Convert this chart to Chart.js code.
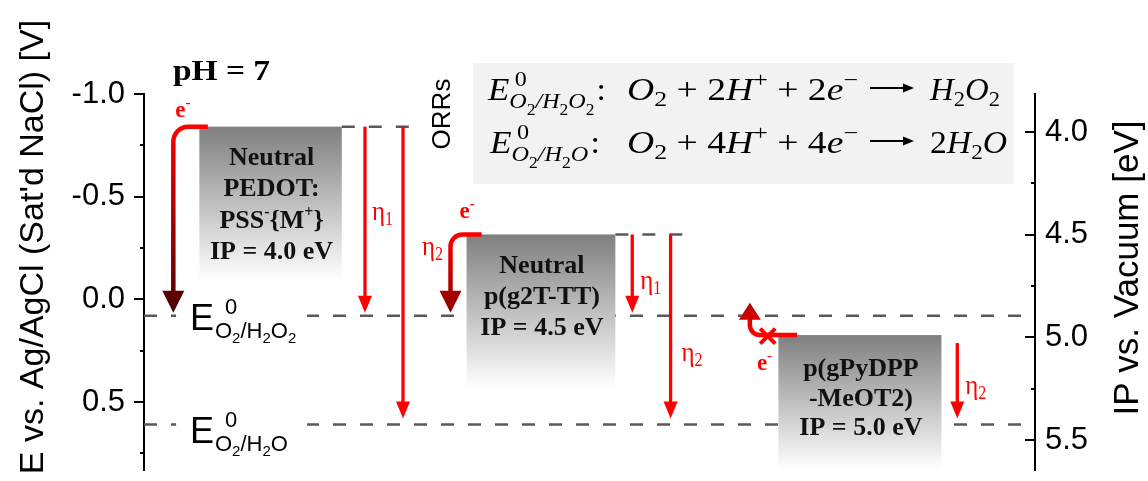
<!DOCTYPE html>
<html>
<head>
<meta charset="utf-8">
<title>Energy level diagram</title>
<script src="https://cdn.jsdelivr.net/npm/chart.js@4.4.1/dist/chart.umd.min.js"></script>
<style>
html,body{margin:0;padding:0;background:#ffffff;overflow:hidden;}
#c{display:block;}
</style>
</head>
<body>
<canvas id="c" width="1148" height="481"></canvas>
<script>
// ===== data =====
const polymerNames = ['PEDOT:PSS', 'p(g2T-TT)', 'p(gPyDPP-MeOT2)'];
const polymerIP_eV = [4.0, 4.5, 5.0];
const polymerLevel_V = [-0.841, -0.316, 0.174];
const orrCouples = ['O2/H2O2', 'O2/H2O'];
const orrElectrons = [2, 4];
const orrProducts = ['H2O2', '2H2O'];
const orrPotential_V = [0.080, 0.609];
const leftTicks_V = [-1.0, -0.75, -0.5, -0.25, 0.0, 0.25, 0.5, 0.75];
const rightTicks_eV = [4.0, 4.25, 4.5, 4.75, 5.0, 5.25, 5.5];
const axisRange_V = [-1.0, 0.831];
const vacuumOffset_eV = 4.815;
const pHValue = 7;
const leftTitle = "E vs. Ag/AgCl (Sat'd NaCl) [V]";
const rightTitle = 'IP vs. Vacuum [eV]';

// ===== layout / style (x in 0..100 layout units of the hidden x scale) =====
const RED = '#ff0000';
const GRAY_DASH = '#595959';
const SANS = 'Liberation Sans';
const SERIF = 'Liberation Serif';
const rectDepth_V = 0.75;
const tipGapPx = [3, 6];
const orrLabelX = 5.16;
const orrLabelDy = [14.5, 19];
const orrGap = [3.6, 18.3];
const layout = [
  { rect: [6.21, 22.2], dashEnd: 30.2,
    curve: { x: 3.29, from: 7.17, r: 15, end: '#4a0000', eDx: 2, eDy: -10 },
    etas: [ { x: 24.8, to: 0, t: 0.5, lx: 7 }, { x: 29.07, to: 1, t: 0.44, lx: 19 } ],
    text: { first: 38.5, step: 31.2, lines: [
      [{ t: 'Neutral' }], [{ t: 'PEDOT:' }],
      [{ t: 'PSS' }, { t: '-', sup: true }, { t: '{M' }, { t: '+', sup: true }, { t: '}' }] ] } },
  { rect: [36.2, 52.9], dashEnd: 60.5,
    curve: { x: 34.4, from: 37.9, r: 12, end: '#8b0000', eDx: 9, eDy: -16 },
    etas: [ { x: 54.8, to: 0, t: 0.7, lx: 8 }, { x: 59.1, to: 1, t: 0.69, lx: 11 } ],
    text: { first: 38.5, step: 31, lines: [ [{ t: 'Neutral' }], [{ t: 'p(g2T-TT)' }] ] } },
  { rect: [71.2, 89.5], dashEnd: null,
    blocked: { x: 68.0, from: 73.3, xMark: 70.0, r: 10, eDx: 7, eDy: 35 },
    etas: [ { x: 91.28, to: 1, t: 0.67, lx: 8, start: 8 } ],
    text: { first: 41, step: 29.7, lines: [ [{ t: 'p(gPyDPP' }], [{ t: '-MeOT2)' }] ] } }
];

// ===== helpers =====
function rich(ctx, segs, x, y, opt) {
  opt = opt || {};
  let cx = 0, ps = 0, maxX = 0; const items = [];
  for (const s of segs) {
    ctx.font = s.f;
    const w = ctx.measureText(s.t).width;
    const st = (s.back ? ps : cx) + (s.dx || 0);
    items.push([s, st]);
    cx = st + w; ps = st; maxX = Math.max(maxX, cx);
  }
  const sc = opt.fit ? opt.fit / maxX : 1;
  let x0 = x;
  if (opt.align === 'center') x0 = x - maxX * sc / 2;
  ctx.save();
  ctx.translate(x0, y); ctx.scale(sc, 1);
  ctx.textAlign = 'left'; ctx.textBaseline = 'alphabetic';
  for (const [s, st] of items) {
    ctx.font = s.f; ctx.fillStyle = s.c || opt.color || '#000';
    ctx.fillText(s.t, st, s.dy || 0);
  }
  ctx.restore();
  return maxX * sc;
}
function subSegs(str, fMain, fSmall, dyMain, dySmall) {
  const out = []; let buf = '';
  const flush = () => { if (buf) { out.push({ t: buf, f: fMain, dy: dyMain }); buf = ''; } };
  for (const ch of str) {
    if (/\d/.test(ch)) { flush(); out.push({ t: ch, f: fSmall, dy: dySmall }); } else buf += ch;
  }
  flush();
  return out;
}
function formulaSegs(str, fMain, fMainUp, fSmall, dySmall) {
  const out = []; let buf = ''; let lead = true;
  const flush = () => { if (buf) { out.push({ t: buf, f: fMain }); buf = ''; } };
  for (const ch of str) {
    if (/\d/.test(ch)) {
      flush();
      if (lead) out.push({ t: ch, f: fMainUp });
      else out.push({ t: ch, f: fSmall, dy: dySmall });
    } else { buf += ch; lead = false; }
  }
  flush();
  return out;
}
function head(ctx, x, tipY, w, h, dir) {
  ctx.beginPath();
  ctx.moveTo(x, tipY);
  ctx.lineTo(x - w / 2, tipY - dir * h);
  ctx.lineTo(x + w / 2, tipY - dir * h);
  ctx.closePath();
  ctx.fill();
}
const isMajor = v => Math.abs(v * 2 - Math.round(v * 2)) < 1e-9;

// ===== plugin drawing the diagram marks =====
const diagram = {
  id: 'diagram',
  afterDatasetsDraw(chart) {
    const { ctx, chartArea: ca, scales: { x, y } } = chart;
    const X = v => x.getPixelForValue(v), Y = v => y.getPixelForValue(v);
    ctx.save();
    // gaps in ORR lines behind labels
    orrPotential_V.forEach((v, i) => {
      ctx.fillStyle = '#ffffff';
      ctx.fillRect(X(orrGap[0]), Y(v) - 4, X(orrGap[1]) - X(orrGap[0]), 8);
    });
    // polymer boxes
    polymerLevel_V.forEach((lv, i) => {
      const L = layout[i];
      const top = Y(lv), bot = Math.min(Y(lv + rectDepth_V), ca.bottom);
      const g = ctx.createLinearGradient(0, top, 0, bot);
      g.addColorStop(0, '#7f7f7f'); g.addColorStop(1, '#ffffff');
      ctx.fillStyle = g;
      ctx.fillRect(X(L.rect[0]), top, X(L.rect[1]) - X(L.rect[0]), bot - top);
      // text
      const cx = (X(L.rect[0]) + X(L.rect[1])) / 2 + 1;
      const lines = L.text.lines.concat([[{ t: 'IP = ' + polymerIP_eV[i].toFixed(1) + ' eV' }]]);
      lines.forEach((ln, k) => {
        const segs = ln.map(s => s.sup ? { t: s.t, f: 'bold 16px ' + SERIF, dy: -11 } : { t: s.t, f: 'bold 26px ' + SERIF });
        rich(ctx, segs, cx, top + L.text.first + k * L.text.step, { align: 'center', color: '#111' });
      });
    });
    // eta arrows
    polymerLevel_V.forEach((lv, i) => {
      const L = layout[i];
      L.etas.forEach(e => {
        const x0 = X(e.x), y0 = Y(lv) + (e.start || 0);
        const tip = Y(orrPotential_V[e.to]) - tipGapPx[e.to];
        ctx.strokeStyle = RED; ctx.fillStyle = RED; ctx.lineWidth = 3.3;
        ctx.beginPath(); ctx.moveTo(x0, y0); ctx.lineTo(x0, tip - 14); ctx.stroke();
        head(ctx, x0, tip, 14, 17, 1);
        rich(ctx, [{ t: 'η', f: '28px ' + SERIF }, { t: String(e.to + 1), f: '18px ' + SERIF, dy: 5 }],
          x0 + e.lx, y0 + e.t * (tip - y0), { color: RED, fit: 21 });
      });
    });
    // curved electron-transfer arrows
    polymerLevel_V.forEach((lv, i) => {
      const L = layout[i];
      const ly = Y(lv);
      if (L.curve) {
        const c = L.curve, cx = X(c.x), sx = X(c.from);
        const tip = Y(orrPotential_V[0]) - tipGapPx[0];
        const g = ctx.createLinearGradient(0, ly, 0, tip);
        g.addColorStop(0, RED); g.addColorStop(1, c.end);
        ctx.strokeStyle = g; ctx.fillStyle = g; ctx.lineWidth = 4.5; ctx.lineCap = 'butt';
        ctx.beginPath(); ctx.moveTo(sx, ly); ctx.lineTo(cx + c.r, ly);
        ctx.arcTo(cx, ly, cx, ly + c.r, c.r); ctx.lineTo(cx, tip - 20); ctx.stroke();
        head(ctx, cx, tip, 22, 22, 1);
        rich(ctx, [{ t: 'e', f: 'bold 23px ' + SERIF }, { t: '-', f: 'bold 15px ' + SERIF, dy: -10 }],
          cx + c.eDx, ly + c.eDy, { color: RED });
      }
      if (L.blocked) {
        const b = L.blocked, ax = X(b.x), ex = X(b.from);
        const tip = Y(orrPotential_V[0]) - 13;
        const g = ctx.createLinearGradient(0, ly, 0, tip);
        g.addColorStop(0, RED); g.addColorStop(1, '#b00000');
        ctx.strokeStyle = g; ctx.fillStyle = g; ctx.lineWidth = 4.5;
        ctx.beginPath(); ctx.moveTo(ex, ly); ctx.lineTo(ax + b.r, ly);
        ctx.arcTo(ax, ly, ax, ly - b.r, b.r); ctx.lineTo(ax, tip + 16); ctx.stroke();
        head(ctx, ax, tip, 22, 17, -1);
        const mx = X(b.xMark), my = ly + 1, s = 7.5;
        ctx.strokeStyle = RED; ctx.lineWidth = 4;
        ctx.beginPath(); ctx.moveTo(mx - s, my - s); ctx.lineTo(mx + s, my + s);
        ctx.moveTo(mx + s, my - s); ctx.lineTo(mx - s, my + s); ctx.stroke();
        rich(ctx, [{ t: 'e', f: 'bold 23px ' + SERIF }, { t: '-', f: 'bold 15px ' + SERIF, dy: -10 }],
          ax + b.eDx, ly + b.eDy, { color: RED });
      }
    });
    // ORR level labels E0
    orrPotential_V.forEach((v, i) => {
      const segs = [{ t: 'E', f: '36px ' + SANS }, { t: '0', f: '22px ' + SANS, dx: 11, dy: -16 }];
      const sub = subSegs(orrCouples[i], '22px ' + SANS, '15px ' + SANS, 8, 13);
      sub[0].back = true; sub[0].dx = -10;
      rich(ctx, segs.concat(sub), X(orrLabelX), Y(v) + orrLabelDy[i], { color: '#000' });
    });
    ctx.restore();
  },
  afterDraw(chart) {
    const { ctx, scales: { y, y2 } } = chart;
    ctx.save();
    // tick marks (left outward, right inward)
    ctx.strokeStyle = '#000'; ctx.lineWidth = 2;
    leftTicks_V.forEach(v => {
      const yy = Math.round(y.getPixelForValue(v)); const len = isMajor(v) ? 10 : 4;
      ctx.beginPath(); ctx.moveTo(y.right - len, yy); ctx.lineTo(y.right, yy); ctx.stroke();
    });
    rightTicks_eV.forEach(v => {
      const yy = Math.round(y2.getPixelForValue(v)); const len = isMajor(v) ? 10 : 4;
      ctx.beginPath(); ctx.moveTo(y2.left - len, yy); ctx.lineTo(y2.left, yy); ctx.stroke();
    });
    // axis titles (rotated, reading upward)
    ctx.fillStyle = '#000'; ctx.textAlign = 'center'; ctx.textBaseline = 'alphabetic';
    ctx.save(); ctx.translate(43, 247); ctx.rotate(-Math.PI / 2);
    ctx.font = '34px ' + SANS; ctx.fillText(leftTitle, 0, 0); ctx.restore();
    ctx.save(); ctx.translate(1138, 268); ctx.rotate(-Math.PI / 2);
    ctx.font = '35px ' + SANS; ctx.fillText(rightTitle, 0, 0); ctx.restore();
    // ORRs label
    ctx.save(); ctx.translate(450, 114); ctx.rotate(-Math.PI / 2);
    ctx.font = '26px ' + SANS; ctx.fillText('ORRs', 0, 0); ctx.restore();
    // pH label
    rich(ctx, [{ t: 'pH = ' + pHValue, f: 'bold 29px ' + SERIF }], 173, 80, { fit: 97 });
    // equation box
    ctx.fillStyle = '#f2f2f2'; ctx.fillRect(473, 63, 541, 121);
    const it = p => 'italic ' + p + 'px ' + SERIF, up = p => p + 'px ' + SERIF;
    const rows = [
      { base: 100, aFit: [488, 118], cFit: [930, 70] },
      { base: 153, aFit: [490, 110], cFit: [930, 77] }
    ];
    orrCouples.forEach((couple, i) => {
      const r = rows[i];
      const a = [{ t: 'E', f: it(32) }, { t: '0', f: up(22), dx: 5, dy: -14 }];
      const sub = subSegs(couple, it(22), up(16), 8, 15);
      sub[0].back = true; sub[0].dx = -5;
      const aSegs = a.concat(sub).concat([{ t: ':', f: up(31), dx: 2 }]);
      rich(ctx, aSegs, r.aFit[0], r.base, { fit: r.aFit[1] });
      const n = String(orrElectrons[i]);
      const bSegs = [
        { t: 'O', f: it(32) }, { t: '2', f: up(22), dy: 6 }, { t: ' + ', f: up(32) },
        { t: n, f: up(32) }, { t: 'H', f: it(32) }, { t: '+', f: up(22), dy: -13 },
        { t: ' + ', f: up(32) }, { t: n, f: up(32) }, { t: 'e', f: it(32) }, { t: '\u2212', f: up(22), dy: -13 }
      ];
      rich(ctx, bSegs, 627, r.base, { fit: 231 });
      // long arrow
      const ay = r.base - 12;
      ctx.strokeStyle = '#000'; ctx.fillStyle = '#000'; ctx.lineWidth = 2;
      ctx.beginPath(); ctx.moveTo(870, ay); ctx.lineTo(905, ay); ctx.stroke();
      ctx.beginPath(); ctx.moveTo(914, ay); ctx.lineTo(903, ay - 4.5); ctx.lineTo(903, ay + 4.5); ctx.closePath(); ctx.fill();
      rich(ctx, formulaSegs(orrProducts[i], it(32), up(32), up(22), 6), r.cFit[0], r.base, { fit: r.cFit[1] });
    });
    ctx.restore();
  }
};

// ===== datasets: dashed reference levels =====
const dashStyle = { borderColor: GRAY_DASH, borderWidth: 2.5, borderDash: [13, 14], pointRadius: 0, showLine: true, fill: false, yAxisID: 'y' };
const datasets = [];
orrPotential_V.forEach((v, i) => datasets.push(Object.assign({ label: 'E0 ' + orrCouples[i], data: [{ x: 0, y: v }, { x: 100, y: v }] }, dashStyle)));
polymerLevel_V.forEach((v, i) => {
  if (layout[i].dashEnd != null)
    datasets.push(Object.assign({ label: polymerNames[i] + ' level', data: [{ x: layout[i].rect[1], y: v }, { x: layout[i].dashEnd, y: v }] }, dashStyle));
});

Chart.defaults.font.family = SANS;
new Chart(document.getElementById('c'), {
  type: 'scatter',
  data: { datasets },
  options: {
    responsive: false, animation: false, devicePixelRatio: 1,
    layout: { padding: { top: 94, bottom: 11, left: 0, right: 0 } },
    plugins: { legend: { display: false }, tooltip: { enabled: false } },
    scales: {
      x: { type: 'linear', display: false, min: 0, max: 100 },
      y: {
        type: 'linear', position: 'left', reverse: true, min: axisRange_V[0], max: axisRange_V[1],
        afterBuildTicks: s => { s.ticks = leftTicks_V.map(v => ({ value: v })); },
        afterFit: s => { s.width = 144; s.paddingTop = 0; s.paddingBottom = 0; },
        grid: { display: false, drawTicks: false },
        border: { display: true, color: '#000', width: 2 },
        ticks: { autoSkip: false, padding: 19, color: '#000', font: { size: 31, family: SANS },
          callback: v => isMajor(v) ? v.toFixed(1) : '' }
      },
      y2: {
        type: 'linear', position: 'right', reverse: true,
        min: axisRange_V[0] + vacuumOffset_eV, max: axisRange_V[1] + vacuumOffset_eV,
        afterBuildTicks: s => { s.ticks = rightTicks_eV.map(v => ({ value: v })); },
        afterFit: s => { s.width = 113; s.paddingTop = 0; s.paddingBottom = 0; },
        grid: { display: false, drawTicks: false },
        border: { display: true, color: '#000', width: 2 },
        ticks: { autoSkip: false, padding: 10, color: '#000', font: { size: 31, family: SANS },
          callback: v => isMajor(v) ? v.toFixed(1) : '' }
      }
    }
  },
  plugins: [diagram]
});
</script>
</body>
</html>
